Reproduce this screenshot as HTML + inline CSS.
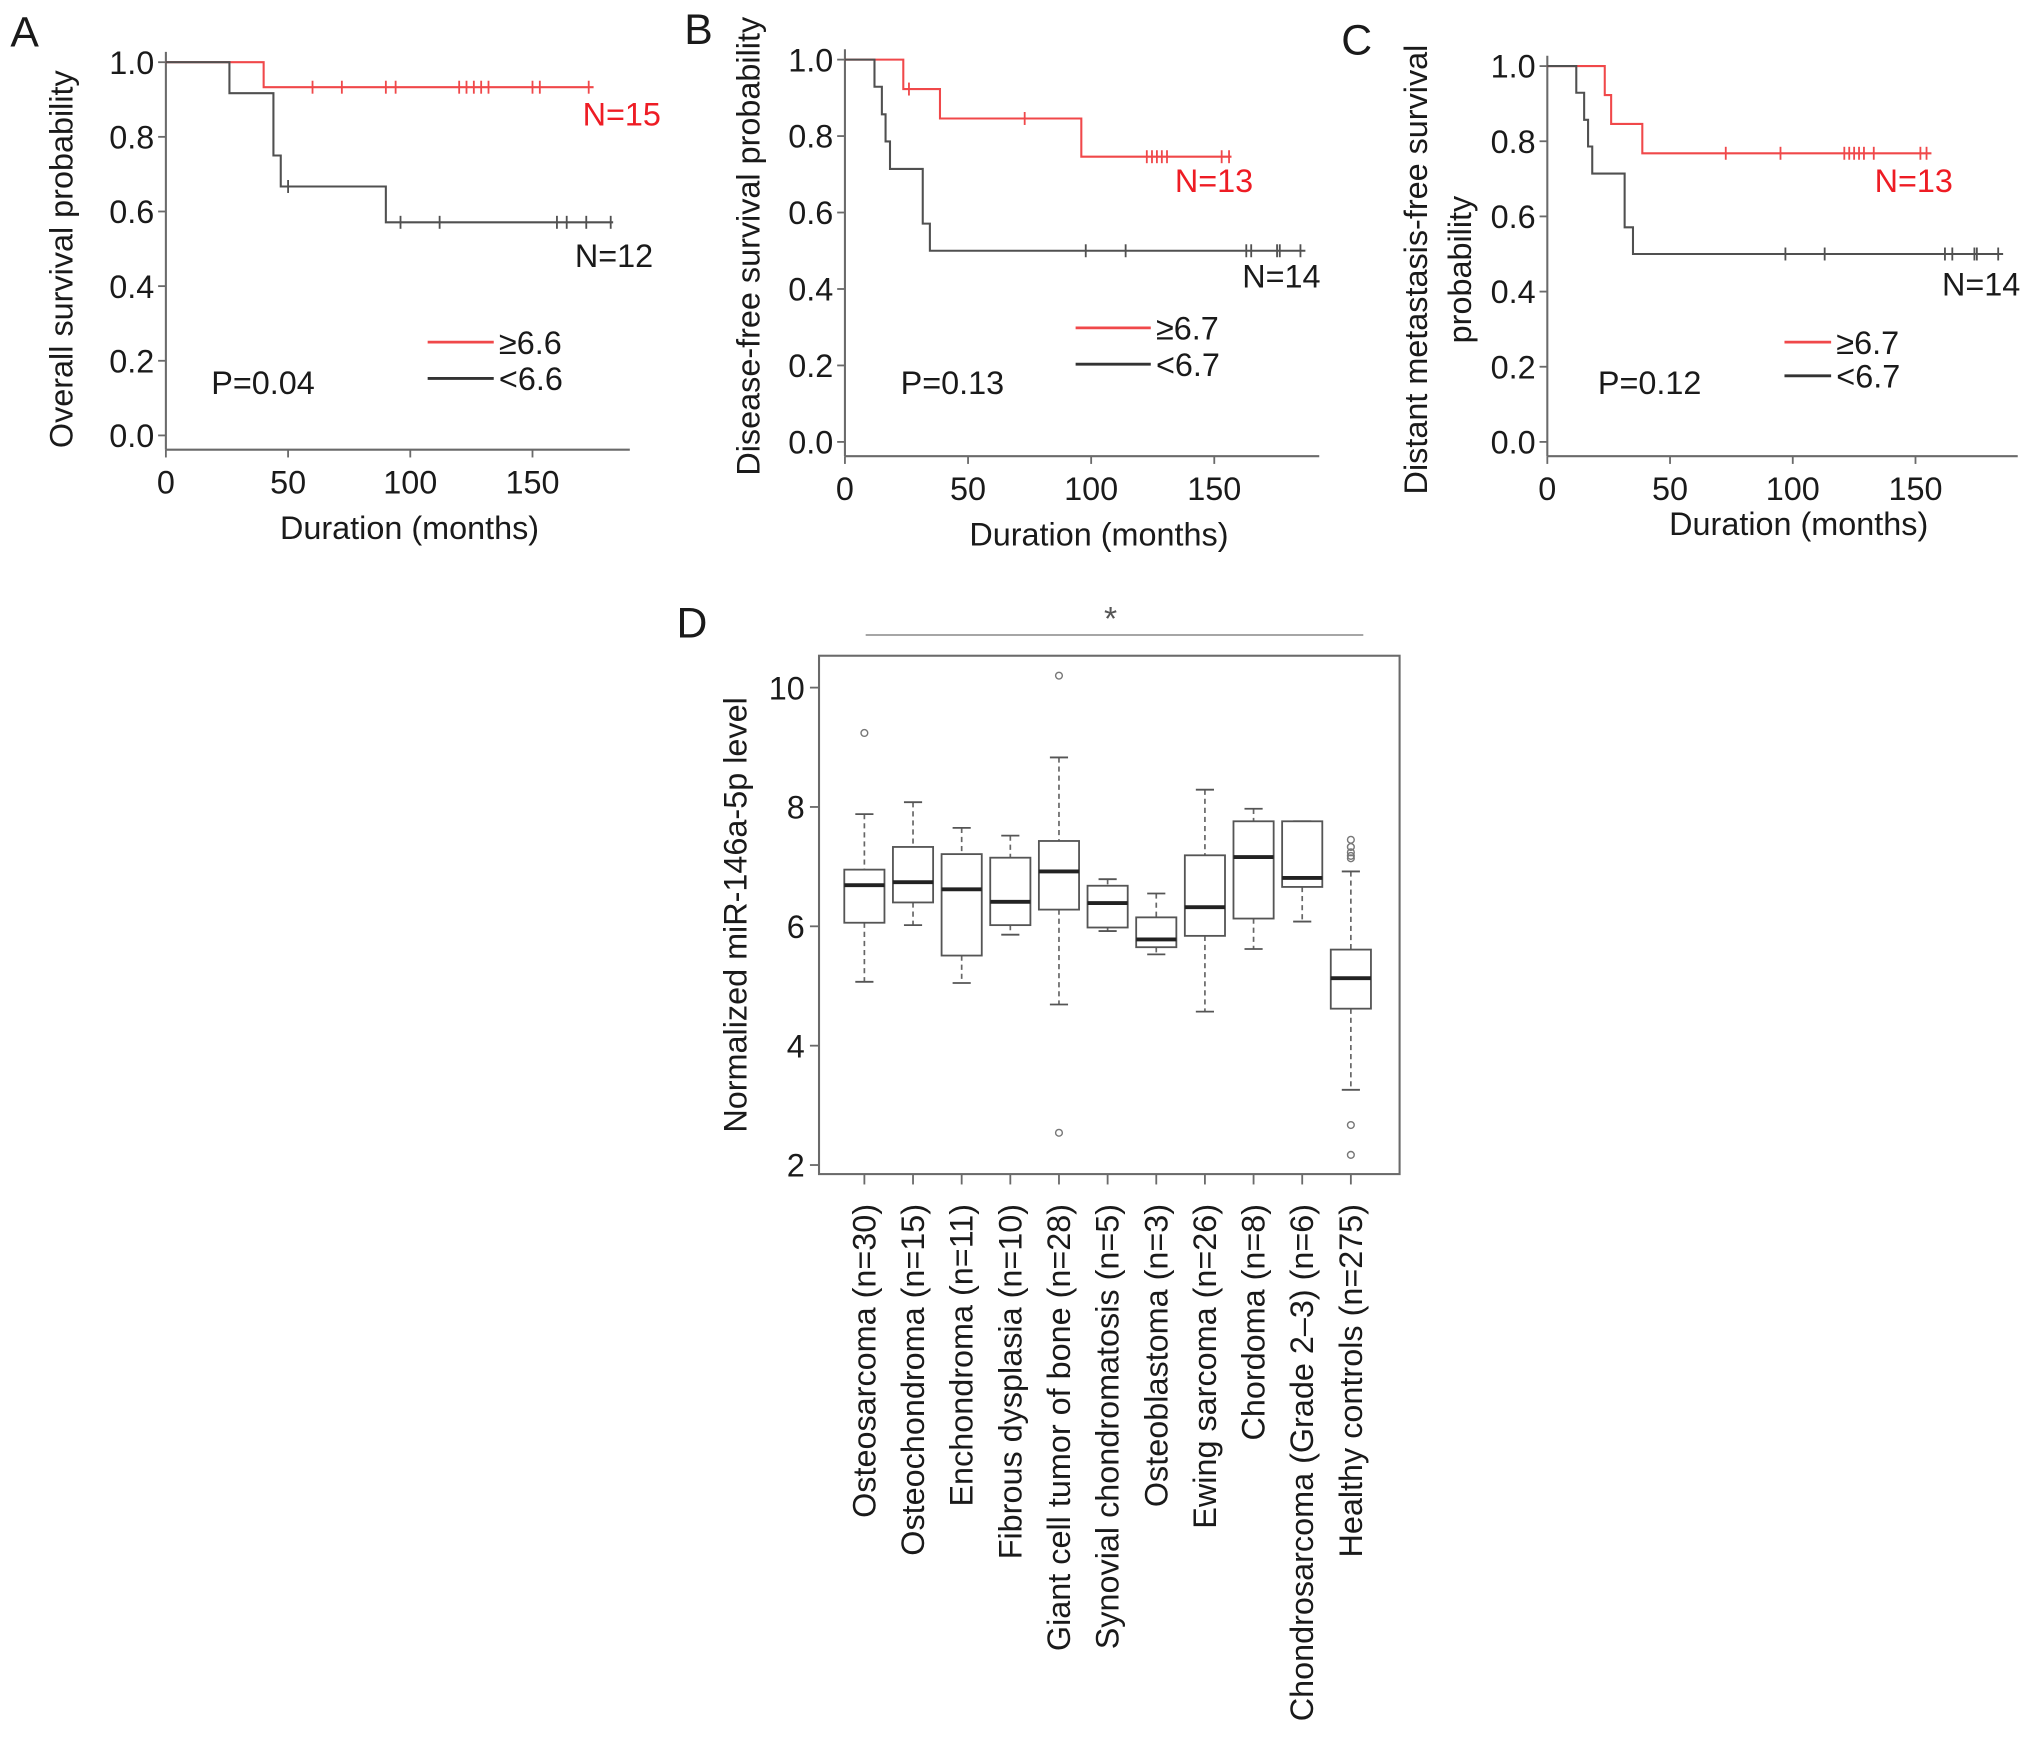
<!DOCTYPE html>
<html><head><meta charset="utf-8">
<style>
html,body{margin:0;padding:0;background:#fff;}
svg{display:block;font-family:"Liberation Sans",Arial,sans-serif;}
</style></head>
<body>
<svg id="fig" width="2032" height="1743" viewBox="0 0 1568 1345" xmlns="http://www.w3.org/2000/svg"></svg>
<script>
// ---- Panel A data ----
const aRedSteps = [[0,1],[40,0.933]];
const aRedEnd = 175;
const aRedCens = [60,72,90,94,120,123,126,129,132,150,153,173];
const aBlkSteps = [[0,1],[26,0.917],[44,0.75],[47,0.667],[90,0.571]];
const aBlkEnd = 183;
const aBlkCens = [50,96,112,160,164,172,182];
// ---- Panel B data ----
const bRedSteps = [[0,1],[23.7,0.923],[38.6,0.846],[96,0.746]];
const bRedEnd = 157;
const bRedCens = [26,73,122.6,124.7,126.7,128.7,130.8,153,156];
const bBlkSteps = [[0,1],[12,0.929],[15,0.857],[16.5,0.786],[18.3,0.714],[31.6,0.571],[34.5,0.5]];
const bBlkEnd = 187;
const bBlkCens = [97.8,114,163,165,175.5,176.6,185];
// ---- Panel C data ----
const cRedSteps = [[0,1],[23.4,0.923],[26,0.846],[38.7,0.768]];
const cRedEnd = 156.5;
const cRedCens = [72.7,95,121,123,125,127,129,133,152,154.5];
const cBlkSteps = [[0,1],[11.8,0.929],[15,0.857],[16.6,0.786],[18.3,0.714],[31.5,0.571],[34.9,0.5]];
const cBlkEnd = 185.7;
const cBlkCens = [97,113,162,165,174,175,183.7];
const kmXTicks = [0,50,100,150];
const kmYTicks = [0,0.2,0.4,0.6,0.8,1.0];
// ---- Panel D data ----
const dCats = ["Osteosarcoma (n=30)","Osteochondroma (n=15)","Enchondroma (n=11)","Fibrous dysplasia (n=10)","Giant cell tumor of bone (n=28)","Synovial chondromatosis (n=5)","Osteoblastoma (n=3)","Ewing sarcoma (n=26)","Chordoma (n=8)","Chondrosarcoma (Grade 2\u20133) (n=6)","Healthy controls (n=275)"];
const dWhiskHi = [7.88,8.08,7.65,7.52,8.83,6.79,6.55,8.29,7.97,7.76,6.92];
const dQ3 = [6.95,7.33,7.21,7.15,7.43,6.68,6.15,7.19,7.76,7.76,5.61];
const dMed = [6.69,6.74,6.62,6.41,6.92,6.39,5.78,6.32,7.16,6.81,5.13];
const dQ1 = [6.06,6.40,5.51,6.02,6.28,5.98,5.65,5.84,6.13,6.66,4.62];
const dWhiskLo = [5.07,6.02,5.05,5.86,4.69,5.92,5.53,4.57,5.62,6.08,3.26];
const dOutliers = [[9.24],[],[],[],[10.2,2.54],[],[],[],[],[],[7.45,7.33,7.24,7.18,7.14,2.67,2.17]];
const dYTicks = [2,4,6,8,10];

const NS="http://www.w3.org/2000/svg";
const svg=document.getElementById('fig');
function el(tag,attrs,parent,text){const e=document.createElementNS(NS,tag);for(const k in attrs)e.setAttribute(k,attrs[k]);if(text!==undefined)e.textContent=text;(parent||svg).appendChild(e);return e;}
const GRAY="#6a6a6a", TXT="#1a1a1a", RED="#f0484a", KMBLK="#505050";
const FS=25;

function kmPanel(cfg){
  const g=el('g',{});
  
  
  const X=m=>cfg.x0+m*cfg.px50/50;
  const Y=p=>cfg.y0-p*(cfg.y0-cfg.y1);
  const ya=el('line',{x1:cfg.x0,y1:cfg.y1-8,x2:cfg.x0,y2:cfg.axY,stroke:GRAY,'stroke-width':1.6},g);
  
  const xa=el('line',{x1:cfg.x0,y1:cfg.axY,x2:cfg.xEnd,y2:cfg.axY,stroke:GRAY,'stroke-width':1.6},g);
  
  kmYTicks.forEach(t=>{
    el('line',{x1:cfg.x0-6,y1:Y(t),x2:cfg.x0,y2:Y(t),stroke:GRAY,'stroke-width':1.4},g);
    const lb=el('text',{x:cfg.x0-9,y:Y(t)+9,'text-anchor':'end','font-size':FS,fill:TXT},g,t.toFixed(1));
    
  });
  kmXTicks.forEach(t=>{
    el('line',{x1:X(t),y1:cfg.axY,x2:X(t),y2:cfg.axY+6,stroke:GRAY,'stroke-width':1.4},g);
    const lb=el('text',{x:X(t),y:cfg.axY+34,'text-anchor':'middle','font-size':FS,fill:TXT},g,String(t));
    
  });
  const xt=el('text',{x:cfg.xTitleX,y:cfg.xTitleY,'text-anchor':'middle','font-size':FS,fill:TXT},g,'Duration (months)');
  
  cfg.yTitle.forEach((s,i)=>{
    const yt=el('text',{x:0,y:0,'text-anchor':'middle','font-size':FS,fill:TXT,transform:`translate(${cfg.yTitleX[i]},${cfg.yTitleY}) rotate(-90)`},g,s);
    
  });
  const pl=el('text',{x:0,y:0,'font-size':33,fill:TXT,transform:`translate(${cfg.letter[0]},${cfg.letter[1]})`},g,cfg.letterText);
  
  function curve(steps,end,cens,color,nm){
    let d=`M${X(0)},${Y(1)}`;
    for(let i=1;i<steps.length;i++){d+=` H${X(steps[i][0])} V${Y(steps[i][1])}`;}
    d+=` H${X(end)}`;
    const p=el('path',{d:d,fill:'none',stroke:color,'stroke-width':1.6},g);
    
    cens.forEach(c=>{
      let s=1;for(const st of steps){if(st[0]<=c)s=st[1];}
      const t=el('line',{x1:X(c),y1:Y(s)-5,x2:X(c),y2:Y(s)+5,stroke:color,'stroke-width':1.4},g);
      
    });
  }
  curve(cfg.red[0],cfg.red[1],cfg.red[2],RED,'high-group');
  curve(cfg.blk[0],cfg.blk[1],cfg.blk[2],KMBLK,'low-group');
  const n1=el('text',{x:cfg.nRed[0],y:cfg.nRed[1],'text-anchor':'end','font-size':FS,fill:'#ee1c24'},g,cfg.nRedT);
  
  const n2=el('text',{x:cfg.nBlk[0],y:cfg.nBlk[1],'text-anchor':'end','font-size':FS,fill:TXT},g,cfg.nBlkT);
  
  const l1=el('line',{x1:cfg.leg[0],y1:cfg.leg[2],x2:cfg.leg[1],y2:cfg.leg[2],stroke:RED,'stroke-width':2.2},g);
  
  const lt1=el('text',{x:cfg.leg[1]+4,y:cfg.leg[2]+9,'font-size':FS,fill:TXT},g,'\u2265'+cfg.cut);
  
  const l2=el('line',{x1:cfg.leg[0],y1:cfg.leg[3],x2:cfg.leg[1],y2:cfg.leg[3],stroke:'#333','stroke-width':2.2},g);
  
  const lt2=el('text',{x:cfg.leg[1]+4,y:cfg.leg[3]+9,'font-size':FS,fill:TXT},g,'<'+cfg.cut);
  
  const pv=el('text',{x:cfg.p[0],y:cfg.p[1],'font-size':FS,fill:TXT},g,cfg.pT);
  
}

kmPanel({name:'panel-a-overall-survival',x0:128,px50:94.3,y0:336,y1:48,axY:347,xEnd:486,
  xTitleX:316,xTitleY:416,yTitle:['Overall survival probability'],yTitleX:[56],yTitleY:200,
  letter:[8,36],letterText:'A',red:[aRedSteps,aRedEnd,aRedCens],blk:[aBlkSteps,aBlkEnd,aBlkCens],
  nRed:[510,97],nRedT:'N=15',nBlk:[504,206],nBlkT:'N=12',leg:[330,381,264,292],cut:'6.6',p:[163,304],pT:'P=0.04'});
kmPanel({name:'panel-b-disease-free-survival',x0:652,px50:95,y0:341,y1:46,axY:352,xEnd:1018,
  xTitleX:848,xTitleY:421,yTitle:['Disease-free survival probability'],yTitleX:[586],yTitleY:190,
  letter:[528,34],letterText:'B',red:[bRedSteps,bRedEnd,bRedCens],blk:[bBlkSteps,bBlkEnd,bBlkCens],
  nRed:[967,148],nRedT:'N=13',nBlk:[1019,222],nBlkT:'N=14',leg:[830,888,253,281],cut:'6.7',p:[695,304],pT:'P=0.13'});
kmPanel({name:'panel-c-distant-metastasis-free-survival',x0:1194,px50:94.7,y0:341,y1:51,axY:352,xEnd:1557,
  xTitleX:1388,xTitleY:413,yTitle:['Distant metastasis-free survival','probability'],yTitleX:[1101,1135],yTitleY:208,
  letter:[1035,42],letterText:'C',red:[cRedSteps,cRedEnd,cRedCens],blk:[cBlkSteps,cBlkEnd,cBlkCens],
  nRed:[1507,148],nRedT:'N=13',nBlk:[1559,228],nBlkT:'N=14',leg:[1377,1413,264,290],cut:'6.7',p:[1233,304],pT:'P=0.12'});

// ---- Panel D ----
(function(){
  const g=el('g',{});
  
  
  const L=632,R=1080,T=506,B=906;
  const Y=v=>899-(v-2)*46.05;
  const X=i=>667+i*37.54;
  const fr=el('rect',{x:L,y:T,width:R-L,height:B-T,fill:'none',stroke:GRAY,'stroke-width':1.6},g);
  
  const pl=el('text',{x:522,y:492,'font-size':33,fill:TXT},g,'D');
  
  const sb=el('line',{x1:668,y1:490,x2:1052,y2:490,stroke:'#999','stroke-width':1.4},g);
  
  const st=el('text',{x:857,y:486,'text-anchor':'middle','font-size':26,fill:'#555'},g,'*');
  
  dYTicks.forEach(t=>{
    el('line',{x1:L-7,y1:Y(t),x2:L,y2:Y(t),stroke:GRAY,'stroke-width':1.4},g);
    const lb=el('text',{x:L-11,y:Y(t)+9,'text-anchor':'end','font-size':FS,fill:TXT},g,String(t));
    
  });
  const yt=el('text',{x:0,y:0,'text-anchor':'middle','font-size':FS,fill:TXT,transform:'translate(576,706) rotate(-90)'},g,'Normalized miR-146a-5p level');
  
  const hw=15.5;
  dCats.forEach((c,i)=>{
    const x=X(i);
    el('line',{x1:x,y1:B,x2:x,y2:B+8,stroke:GRAY,'stroke-width':1.4},g);
    const cl=el('text',{x:0,y:0,'text-anchor':'end','font-size':FS,fill:TXT,'dominant-baseline':'central',transform:`translate(${x},929) rotate(-90)`},g,c);
    
    const bg=el('g',{},g);
    
    
    el('line',{x1:x,y1:Y(dWhiskHi[i]),x2:x,y2:Y(dQ3[i]),stroke:'#666','stroke-width':1.3,'stroke-dasharray':'4,3'},bg);
    el('line',{x1:x,y1:Y(dQ1[i]),x2:x,y2:Y(dWhiskLo[i]),stroke:'#666','stroke-width':1.3,'stroke-dasharray':'4,3'},bg);
    el('line',{x1:x-7,y1:Y(dWhiskHi[i]),x2:x+7,y2:Y(dWhiskHi[i]),stroke:'#555','stroke-width':1.4},bg);
    el('line',{x1:x-7,y1:Y(dWhiskLo[i]),x2:x+7,y2:Y(dWhiskLo[i]),stroke:'#555','stroke-width':1.4},bg);
    el('rect',{x:x-hw,y:Y(dQ3[i]),width:2*hw,height:Y(dQ1[i])-Y(dQ3[i]),fill:'#fff',stroke:'#555','stroke-width':1.4},bg);
    el('line',{x1:x-hw,y1:Y(dMed[i]),x2:x+hw,y2:Y(dMed[i]),stroke:'#222','stroke-width':3},bg);
    dOutliers[i].forEach(o=>{
      const c2=el('circle',{cx:x,cy:Y(o),r:2.6,fill:'none',stroke:'#777','stroke-width':1.1},bg);
      
      
    });
  });
})();
</script>
</body></html>
